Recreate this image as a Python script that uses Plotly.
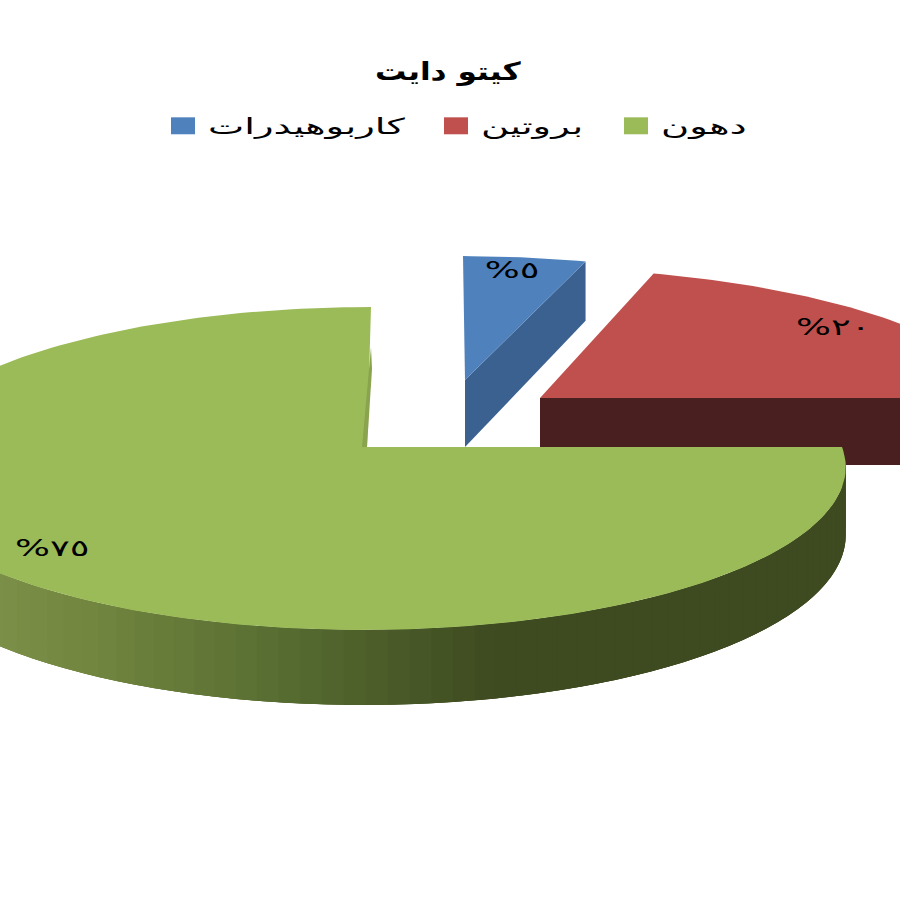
import math
import plotly.graph_objects as go

categories = ["كاربوهيدرات", "بروتين", "دهون"]
values = [5, 20, 75]
percent_labels = ["%٥", "%٢٠", "%٧٥"]
title_text = "كيتو دايت"

face_colors = ["#4f81bd", "#c0504d", "#9bbb59"]
wall_colors = ["#3a6190", "#4a1f1f", "#8aa34f"]
# slice geometry on the 900 px canvas: apex x, apex y, x scale, y scale, lean
apex_x = [465, 540, 367]
apex_y = [380, 398, 447]
scale_x = [0.94, 0.989, 1.0]
scale_y = [0.885, 0.93, 1.0]
lean = [-2, -16, 4]
label_pos = [(512, 270), (833, 327), (52, 548)]
legend_left = [158, 431, 611]

RX, RY, K, DEPTH = 475, 158.6, 0.133, 67
rim_stops = [(0, (123, 143, 72)), (100, (113, 133, 63)), (300, (85, 106, 48)),
             (500, (62, 74, 32)), (850, (62, 74, 32))]


def project(i, theta):
    u, v = math.sin(theta), math.cos(theta)
    w = 1 + K * v
    x = apex_x[i] + scale_x[i] * RX * u / w + lean[i] * v
    y = apex_y[i] - scale_y[i] * RY * v / w
    return x, y, v


def drop(v):
    return DEPTH * (1 - 0.12 * v)


def rim_color(x):
    for (x0, c0), (x1, c1) in zip(rim_stops, rim_stops[1:]):
        if x <= x1:
            t = max(0, (x - x0) / (x1 - x0))
            return "rgb(%d,%d,%d)" % tuple(a + (b - a) * t for a, b in zip(c0, c1))
    return "rgb(%d,%d,%d)" % rim_stops[-1][1]


def poly(xs, ys, color):
    return go.Scatter(x=xs, y=ys, mode="lines", fill="toself", fillcolor=color,
                      line=dict(color=color, width=0), showlegend=False,
                      hoverinfo="skip")


total = sum(values)
starts, ends = [], []
acc = 0
for val in values:
    starts.append(acc / total * 2 * math.pi)
    acc += val
    ends.append(acc / total * 2 * math.pi)

fig = go.Figure()

# Blue and red cut walls
for i in (0, 1):
    x1, y1, v1 = project(i, ends[i])
    ax, ay = apex_x[i], apex_y[i]
    fig.add_trace(poly([ax, x1, x1, ax], [ay, y1, y1 + drop(v1), ay + drop(0)], wall_colors[i]))

# Green outer rim: each band overlaps the next so no seams show
n = 90
a0, a1 = starts[2], math.pi * 1.65
for j in range(n):
    ts = [a0 + (a1 - a0) * (j + s / 4) / n for s in range(13)]
    top = [project(2, t) for t in ts]
    xs = [p[0] for p in top] + [p[0] for p in reversed(top)]
    ys = [p[1] for p in top] + [p[1] + drop(p[2]) for p in reversed(top)]
    fig.add_trace(poly(xs, ys, rim_color(top[2][0])))

# Top faces
for i in range(3):
    steps = max(4, int(values[i] * 3))
    xs, ys = [apex_x[i]], [apex_y[i]]
    for j in range(steps + 1):
        x, y, _ = project(i, starts[i] + (ends[i] - starts[i]) * j / steps)
        xs.append(x)
        ys.append(y)
    fig.add_trace(poly(xs, ys, face_colors[i]))

# Green thin cut wall at 12 o'clock
xt, yt, vt = project(2, 2 * math.pi)
fig.add_trace(poly([apex_x[2], apex_x[2] - 5, xt, xt + 1],
                   [apex_y[2], apex_y[2], yt + 40, yt + 62], wall_colors[2]))

# Legend entries, one legend per item so each sits at its own place
legend_ids = ["legend", "legend2", "legend3"]
for i in range(3):
    fig.add_trace(go.Scatter(x=[None], y=[None], mode="markers", name=categories[i],
                             legend=legend_ids[i], showlegend=True,
                             marker=dict(symbol="square", size=16, color=face_colors[i])))

for i in range(3):
    fig.add_annotation(x=label_pos[i][0], y=label_pos[i][1], text=percent_labels[i],
                       showarrow=False, font=dict(family="DejaVu Sans", size=23, color="#000000"))

legend_style = [
    dict(orientation="h", x=left / 900, y=1 - 105 / 900, xanchor="left", yanchor="top",
         font=dict(family="DejaVu Sans", size=22, color="#000000"), itemwidth=40,
         itemclick=False, itemdoubleclick=False, bgcolor="rgba(0,0,0,0)")
    for left in legend_left
]

fig.update_layout(
    width=900, height=900, margin=dict(l=0, r=0, t=0, b=0),
    paper_bgcolor="#ffffff", plot_bgcolor="#ffffff",
    xaxis=dict(range=[0, 900], visible=False, domain=[0, 1]),
    yaxis=dict(range=[900, 0], visible=False, domain=[0, 1]),
    title=dict(text="<b>" + title_text + "</b>", x=448 / 900, y=1 - 71 / 900,
               xanchor="center", yanchor="middle",
               font=dict(family="DejaVu Sans", size=25, color="#000000")),
    legend=legend_style[0], legend2=legend_style[1], legend3=legend_style[2],
)

page_style = """
document.body.style.margin = '0';
var s = document.createElement('style');
s.textContent = `
.scrollbox {clip-path: none !important;}
.legendtext, .legend2text, .legend3text {transform-box: fill-box; transform-origin: left center; transform: scaleX(1.75);}
.legendpoints path.scatterpts {transform: translate(25px, 0px) scale(1.5, 1.06);}
.gtitle {transform-box: fill-box; transform-origin: center; transform: scaleX(1.25);}
.annotation-text {transform-box: fill-box; transform-origin: center; transform: scaleX(1.6);}
`;
document.head.appendChild(s);
"""
fig.write_html("out.html", post_script=page_style, config=dict(displayModeBar=False))
